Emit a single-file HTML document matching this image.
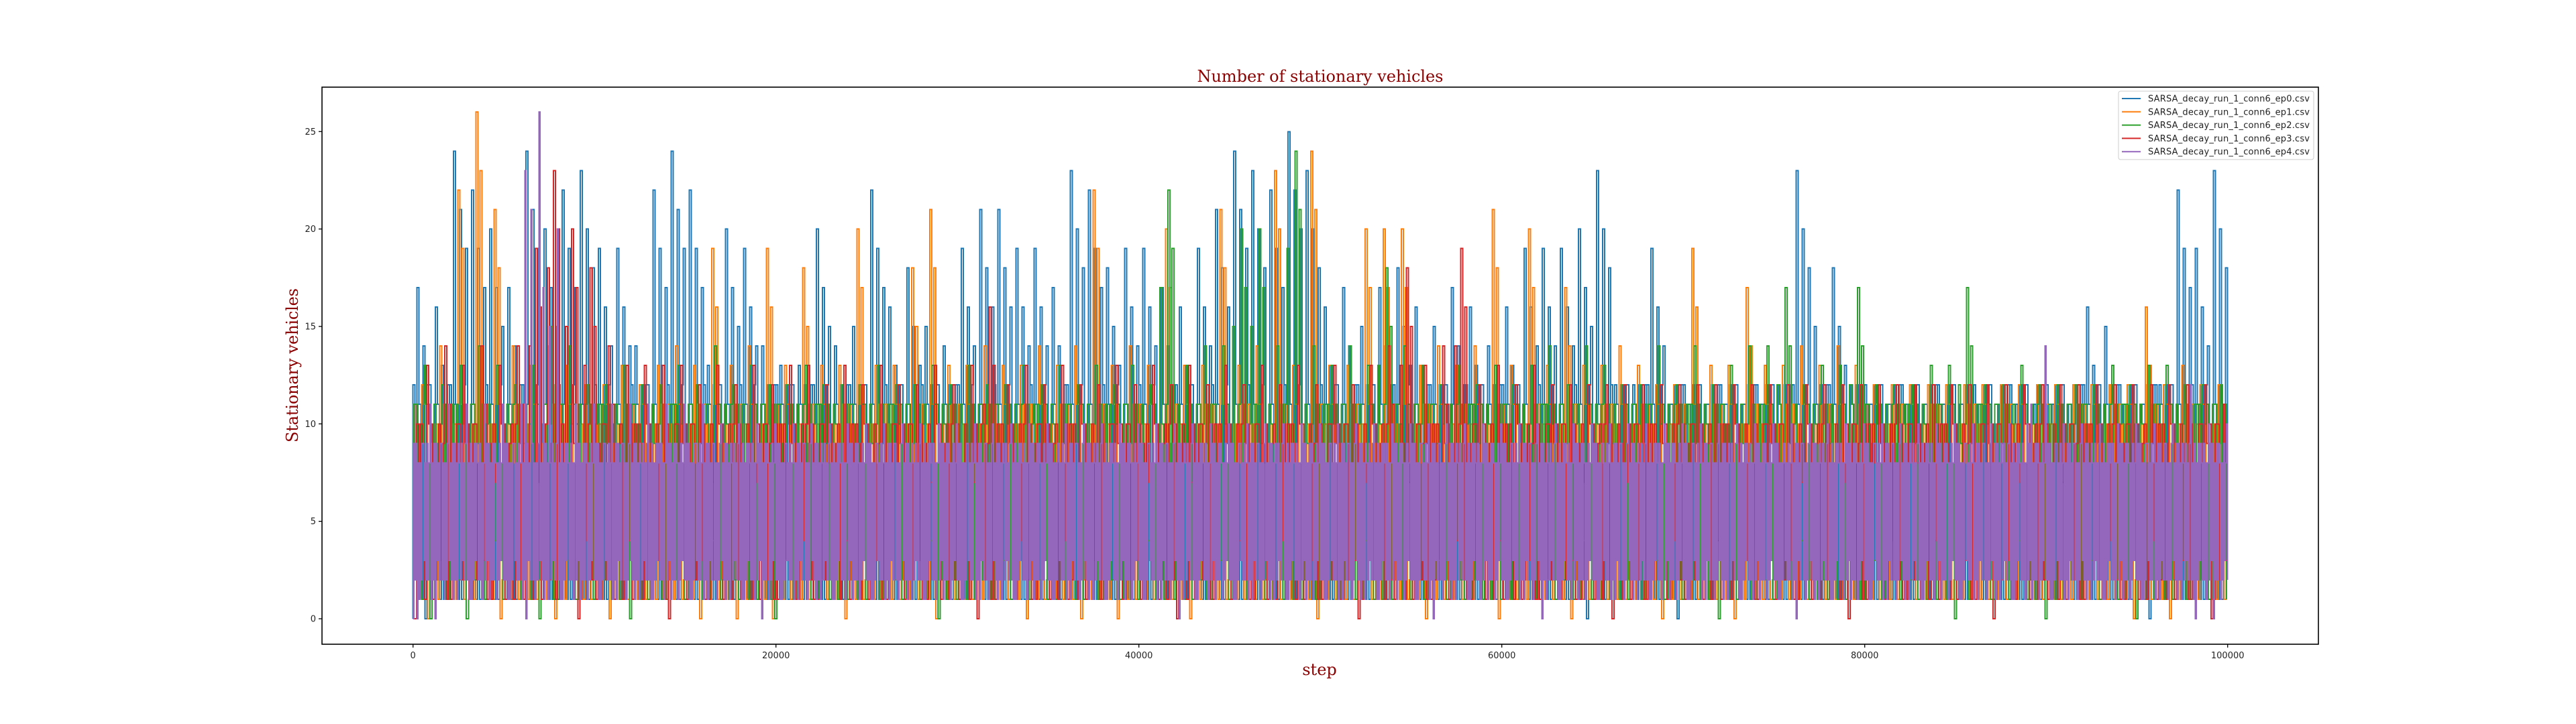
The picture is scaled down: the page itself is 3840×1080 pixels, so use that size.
<!DOCTYPE html>
<html><head><meta charset="utf-8">
<style>
html,body{margin:0;padding:0;background:#fff;}
svg{display:block;}
</style></head>
<body>
<svg id="chart" width="3840" height="1080" viewBox="0 0 3840 1080" xmlns="http://www.w3.org/2000/svg">
<rect x="0" y="0" width="3840" height="1080" fill="#fff"/>
<g id="series"></g>
<rect x="480" y="130" width="2976" height="831" fill="none" stroke="#000" stroke-width="1.6"/>
<g id="axes"></g>
<text x="1968" y="122" text-anchor="middle" font-family="'DejaVu Serif','Liberation Serif',serif" font-size="24" fill="#8b0000" textLength="367">Number of stationary vehicles</text>
<text x="1967" y="1007" text-anchor="middle" font-family="'DejaVu Serif','Liberation Serif',serif" font-size="24" fill="#8b0000">step</text>
<text transform="translate(444,545) rotate(-90)" text-anchor="middle" font-family="'DejaVu Serif','Liberation Serif',serif" font-size="24" fill="#8b0000" textLength="230">Stationary vehicles</text>
<g id="legend"></g>
</svg>
<script>
const seriesNames = ["SARSA_decay_run_1_conn6_ep0.csv","SARSA_decay_run_1_conn6_ep1.csv","SARSA_decay_run_1_conn6_ep2.csv","SARSA_decay_run_1_conn6_ep3.csv","SARSA_decay_run_1_conn6_ep4.csv"];
const seriesColors = ["#1f77b4","#ff7f0e","#2ca02c","#d62728","#9467bd"];
const xTicks = [0,20000,40000,60000,80000,100000];
const yTicks = [0,5,10,15,20,25];
const totalSteps = 100000;
// per-bin peak values (1000 steps per bin)
const peakEp0 = [17,16,24,22,20,17,24,20,22,23,19,19,14,22,24,22,13,20,19,14,13,13,20,14,15,22,16,18,15,14,19,21,21,19,19,17,23,22,18,19,19,17,16,19,21,24,23,22,25,23,16,17,15,17,18,16,15,17,16,14,16,19,19,19,20,23,12,12,19,11,11,11,11,11,11,12,23,15,18,12,11,11,11,11,11,11,11,10,10,10,10,11,16,15,11,11,12,22,19,23];
const peakEp1 = [12,14,22,26,21,14,13,14,13,12,12,13,12,13,14,13,19,13,14,19,13,18,13,13,20,13,13,18,21,13,13,14,13,13,14,13,14,22,13,14,13,20,13,13,21,13,14,23,13,24,13,13,20,20,20,13,14,13,14,21,13,20,13,17,13,13,14,13,12,12,19,13,13,17,13,13,14,13,14,13,12,12,12,12,12,12,12,12,12,12,12,12,12,12,12,16,12,13,12,12];
const peakEp2 = [13,12,13,14,13,12,13,15,14,12,12,13,12,12,13,12,14,12,13,12,12,13,12,12,12,13,12,12,13,12,13,12,12,13,12,13,12,13,12,13,12,22,13,14,14,20,20,14,24,14,13,14,13,18,14,13,12,13,12,13,12,13,14,12,14,13,12,12,14,12,14,12,13,14,14,17,12,13,13,17,12,12,12,13,13,17,12,12,13,12,12,12,12,13,12,13,13,12,12,12];
const peakEp3 = [13,14,13,14,13,14,19,23,20,18,14,13,13,13,13,12,13,12,13,12,13,13,12,13,12,13,12,12,13,12,13,16,12,13,12,13,12,12,13,12,13,12,13,12,13,12,13,12,13,12,13,12,13,14,18,13,14,19,12,13,12,13,12,12,12,12,12,12,12,12,12,12,12,12,12,12,12,12,12,12,12,12,12,12,12,12,12,12,12,12,12,12,12,12,12,12,12,12,12,11];
const peakEp4 = [11,11,11,11,11,11,26,20,11,11,11,11,11,11,11,11,10,10,10,10,10,10,10,10,10,10,10,10,10,10,10,10,10,10,10,10,10,10,10,10,10,10,10,10,10,10,10,10,10,10,10,10,10,10,10,10,10,10,10,10,10,10,10,10,10,10,10,10,10,10,10,10,10,10,10,10,10,10,10,10,10,10,10,10,10,10,10,10,10,14,10,10,10,10,10,10,10,12,10,10];
// per-bin dip values
const dipEp0 = [0,1,1,1,1,1,1,1,1,1,1,1,1,1,1,1,1,1,1,1,1,1,1,1,1,1,1,1,1,1,1,1,1,1,1,1,1,1,1,1,1,1,1,1,1,1,1,1,1,1,1,1,1,1,1,1,1,1,1,1,1,1,1,1,0,1,1,1,1,0,1,1,1,1,1,1,1,1,1,1,1,1,1,1,1,1,1,1,1,1,1,1,1,1,1,0,1,1,1,1];
const dipEp1 = [0,1,1,1,0,1,1,0,1,1,0,1,1,1,1,0,1,0,1,0,1,1,1,0,1,1,1,1,0,1,1,1,1,0,1,1,0,1,0,1,1,1,0,1,1,1,1,1,1,0,1,1,1,1,1,0,1,1,1,0,1,1,1,0,1,1,1,1,0,1,1,1,0,1,1,1,1,1,1,1,1,1,1,1,1,1,1,1,1,1,1,1,1,1,0,1,0,1,1,1];
const dipEp2 = [0,1,0,1,1,1,0,1,1,1,1,0,1,1,1,1,1,1,1,0,1,1,1,1,1,1,1,1,0,1,1,1,1,1,1,1,1,1,1,1,1,1,1,1,1,1,1,1,1,1,1,1,1,1,1,1,1,1,1,1,1,1,1,1,1,1,1,1,1,1,1,0,1,1,1,1,1,1,1,1,1,1,1,1,0,1,1,1,1,0,1,1,1,1,0,1,1,1,1,1];
const dipEp3 = [0,1,1,1,1,1,1,1,1,0,1,1,1,1,0,1,1,1,1,1,1,1,1,1,1,1,1,1,1,1,1,0,1,1,1,1,1,1,1,1,1,1,0,1,1,1,1,1,1,1,1,1,0,1,1,1,1,1,1,1,1,1,1,1,1,1,0,1,1,1,1,1,1,1,1,1,1,1,1,0,1,1,1,1,1,1,1,0,1,1,1,1,1,1,1,1,1,1,1,0];
const dipEp4 = [0,0,1,1,1,1,0,1,1,1,1,1,1,1,1,1,1,1,1,0,1,1,1,1,1,1,1,1,1,1,1,1,1,1,1,1,1,1,1,1,1,1,0,1,1,1,1,1,1,1,1,1,1,1,1,1,0,1,1,1,1,1,0,1,1,1,1,1,1,1,1,1,1,1,1,1,0,1,1,1,1,1,1,1,1,1,1,1,1,1,1,1,1,1,1,1,1,1,0,0];
// typical (core) range per series
const coreLow = [1,1,1,1,2];
const coreHigh = [12,11,11,10,9];

const peaks = [peakEp0,peakEp1,peakEp2,peakEp3,peakEp4];
const dips = [dipEp0,dipEp1,dipEp2,dipEp3,dipEp4];

const X0 = 615.7, XS = 2705/100000;
const Y0 = 923, YS = 29.07;
function xPos(v){ return X0 + v*XS; }
function yPos(v){ return Y0 - v*YS; }
const NS = "http://www.w3.org/2000/svg";

const layer = document.getElementById('series');
for (let s=0; s<seriesNames.length; s++){
  const pk = peaks[s], dp = dips[s];
  const n = pk.length;
  const binSteps = totalSteps / n;
  const stepPx = (s===4) ? 1.5 : 3;
  const hi = coreHigh[s], lo = coreLow[s];
  const tops = (s===4) ? [hi,hi-1,hi-1,hi,hi-1] : [hi,hi-1,hi,hi-2,hi-1,hi-3];
  const bots = (s===4) ? [lo,lo-1,lo,lo+1,lo] : [lo+1,lo,lo+1,lo+2,lo,lo+3];
  let d = 'M' + xPos(0).toFixed(1) + ',' + yPos(0).toFixed(1);
  let k = 0;
  for (let i=0;i<n;i++){
    const xa = xPos(i*binSteps), xb = xPos((i+1)*binSteps);
    const w = xb - xa;
    const spikes = [
      [xa + w*((0.2 + s*0.17)%1), pk[i]],
      [xa + w*((0.45 + s*0.17)%1), Math.max(hi, pk[i]-3)],
      [xa + w*((0.8 + s*0.17)%1), Math.max(hi, pk[i]-5)]
    ].sort((a,b)=>a[0]-b[0]);
    const dipX = xa + w*((0.65 + s*0.13)%1);
    let x = xa + (s*0.7)%stepPx;
    let si = 0, dipDone=false;
    while (x < xb){
      let v;
      if (si < spikes.length && x >= spikes[si][0]){ v = spikes[si][1]; si++; }
      else if (!dipDone && x >= dipX){ v = dp[i]; dipDone=true; }
      else { v = (k%2===0) ? tops[(k>>1)%tops.length] : bots[(k>>1)%bots.length]; k++; }
      d += 'H' + x.toFixed(1) + 'V' + yPos(v).toFixed(1);
      x += stepPx;
    }
  }
  const pl = document.createElementNS(NS,'path');
  pl.setAttribute('d', d);
  pl.setAttribute('fill','none');
  pl.setAttribute('stroke', seriesColors[s]);
  pl.setAttribute('stroke-width', '2');
  pl.setAttribute('shape-rendering', 'crispEdges');
  
  
  layer.appendChild(pl);
}

const axes = document.getElementById('axes');
const font = "'DejaVu Sans','Liberation Sans',sans-serif";
for (const t of xTicks){
  const x = xPos(t);
  const ln = document.createElementNS(NS,'line');
  ln.setAttribute('x1',x); ln.setAttribute('x2',x); ln.setAttribute('y1',961); ln.setAttribute('y2',966);
  ln.setAttribute('stroke','#000'); ln.setAttribute('stroke-width','1.3');
  
  
  axes.appendChild(ln);
  const tx = document.createElementNS(NS,'text');
  tx.setAttribute('x',x); tx.setAttribute('y',982); tx.setAttribute('text-anchor','middle');
  tx.setAttribute('font-family',font); tx.setAttribute('font-size','13'); tx.setAttribute('fill','#222');
  tx.textContent = String(t);
  
  
  axes.appendChild(tx);
}
for (const t of yTicks){
  const y = yPos(t);
  const ln = document.createElementNS(NS,'line');
  ln.setAttribute('x1',475); ln.setAttribute('x2',480); ln.setAttribute('y1',y); ln.setAttribute('y2',y);
  ln.setAttribute('stroke','#000'); ln.setAttribute('stroke-width','1.3');
  
  
  axes.appendChild(ln);
  const tx = document.createElementNS(NS,'text');
  tx.setAttribute('x',471); tx.setAttribute('y',y+4.5); tx.setAttribute('text-anchor','end');
  tx.setAttribute('font-family',font); tx.setAttribute('font-size','13'); tx.setAttribute('fill','#222');
  tx.textContent = String(t);
  
  
  axes.appendChild(tx);
}

const lg = document.getElementById('legend');
const box = document.createElementNS(NS,'rect');
box.setAttribute('x',3158); box.setAttribute('y',136); box.setAttribute('width',291); box.setAttribute('height',102);
box.setAttribute('rx',3); box.setAttribute('fill','#fff'); box.setAttribute('fill-opacity','0.85');
box.setAttribute('stroke','#ccc'); box.setAttribute('stroke-width','1');


lg.appendChild(box);
for (let s=0;s<seriesNames.length;s++){
  const y = 147 + s*19.8;
  const ln = document.createElementNS(NS,'line');
  ln.setAttribute('x1',3163); ln.setAttribute('x2',3191); ln.setAttribute('y1',y); ln.setAttribute('y2',y);
  ln.setAttribute('stroke',seriesColors[s]); ln.setAttribute('stroke-width','2');
  
  
  lg.appendChild(ln);
  const tx = document.createElementNS(NS,'text');
  tx.setAttribute('x',3202); tx.setAttribute('y',y+4.5);
  tx.setAttribute('font-family',font); tx.setAttribute('font-size','13'); tx.setAttribute('fill','#222');
  tx.setAttribute('textLength','241');
  tx.textContent = seriesNames[s];
  
  
  lg.appendChild(tx);
}
</script>
</body></html>
